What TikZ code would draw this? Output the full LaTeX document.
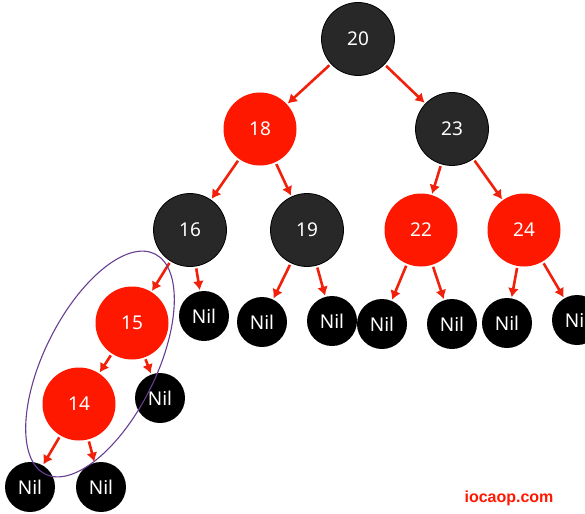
\documentclass[tikz,border=0pt]{standalone}
\usepackage{fontspec}
\setmainfont{Noto Sans}
\newfontfamily\markfont{Liberation Sans}
\usepackage{xcolor}
\usetikzlibrary{arrows.meta}
\definecolor{rbblack}{RGB}{40,40,40}
\definecolor{rbred}{RGB}{255,24,0}
\definecolor{edgered}{RGB}{240,32,10}
\definecolor{loopviolet}{RGB}{104,62,146}

\begin{document}
\begin{tikzpicture}[x=1pt,y=-1pt,
  key/.style={circle, inner sep=0pt, minimum size=73pt, text=white, font=\fontsize{19}{21}\selectfont},
  blackkey/.style={key, fill=rbblack, draw=black, line width=0.8pt},
  redkey/.style={key, fill=rbred},
  nil/.style={key, fill=black, minimum size=50pt},
  edge/.style={draw=edgered, line width=2.6pt, shorten <=2pt, shorten >=1pt, -{Latex[length=9pt,width=11pt]}}]%

\clip (0,0) rectangle (585,513);

%inner nodes
\node[blackkey] (n20) at (358,39) {20};
\node[redkey] (n18) at (260,129) {18};
\node[blackkey] (n23) at (452,129) {23};
\node[blackkey] (n16) at (190,230) {16};
\node[blackkey] (n19) at (307,230) {19};
\node[redkey] (n22) at (421,230) {22};
\node[redkey] (n24) at (524,230) {24};
\node[redkey] (n15) at (132,323) {15};
\node[redkey] (n14) at (79,404) {14};

%leaves
\node[nil] (nil16) at (204,316) {Nil};
\node[nil] (nil19a) at (262,322) {Nil};
\node[nil] (nil19b) at (332,321) {Nil};
\node[nil] (nil22a) at (382,324) {Nil};
\node[nil] (nil22b) at (452,324) {Nil};
\node[nil] (nil24a) at (507,323) {Nil};
\node[nil] (nil24b) at (577,320) {Nil};
\node[nil] (nil15) at (160,398) {Nil};
\node[nil] (nil14a) at (30,487) {Nil};
\node[nil] (nil14b) at (101,487) {Nil};

%links
\foreach \a/\b in {n20/n18, n20/n23, n18/n16, n18/n19, n23/n22, n23/n24,
                   n16/n15, n16/nil16, n19/nil19a, n19/nil19b,
                   n22/nil22a, n22/nil22b, n24/nil24a, n24/nil24b,
                   n15/n14, n15/nil15, n14/nil14a, n14/nil14b}{
  \draw[edge] (\a) -- (\b);
}

%red pair
\draw[loopviolet, line width=1.1pt, rotate around={63.5:(100,364)}] (100,364) ellipse [x radius=123, y radius=56];

%mark
\node[text=rbred, font=\markfont\bfseries\fontsize{16}{18}\selectfont] (mark) at (509,498) {iocaop.com};

\end{tikzpicture}
\end{document}
